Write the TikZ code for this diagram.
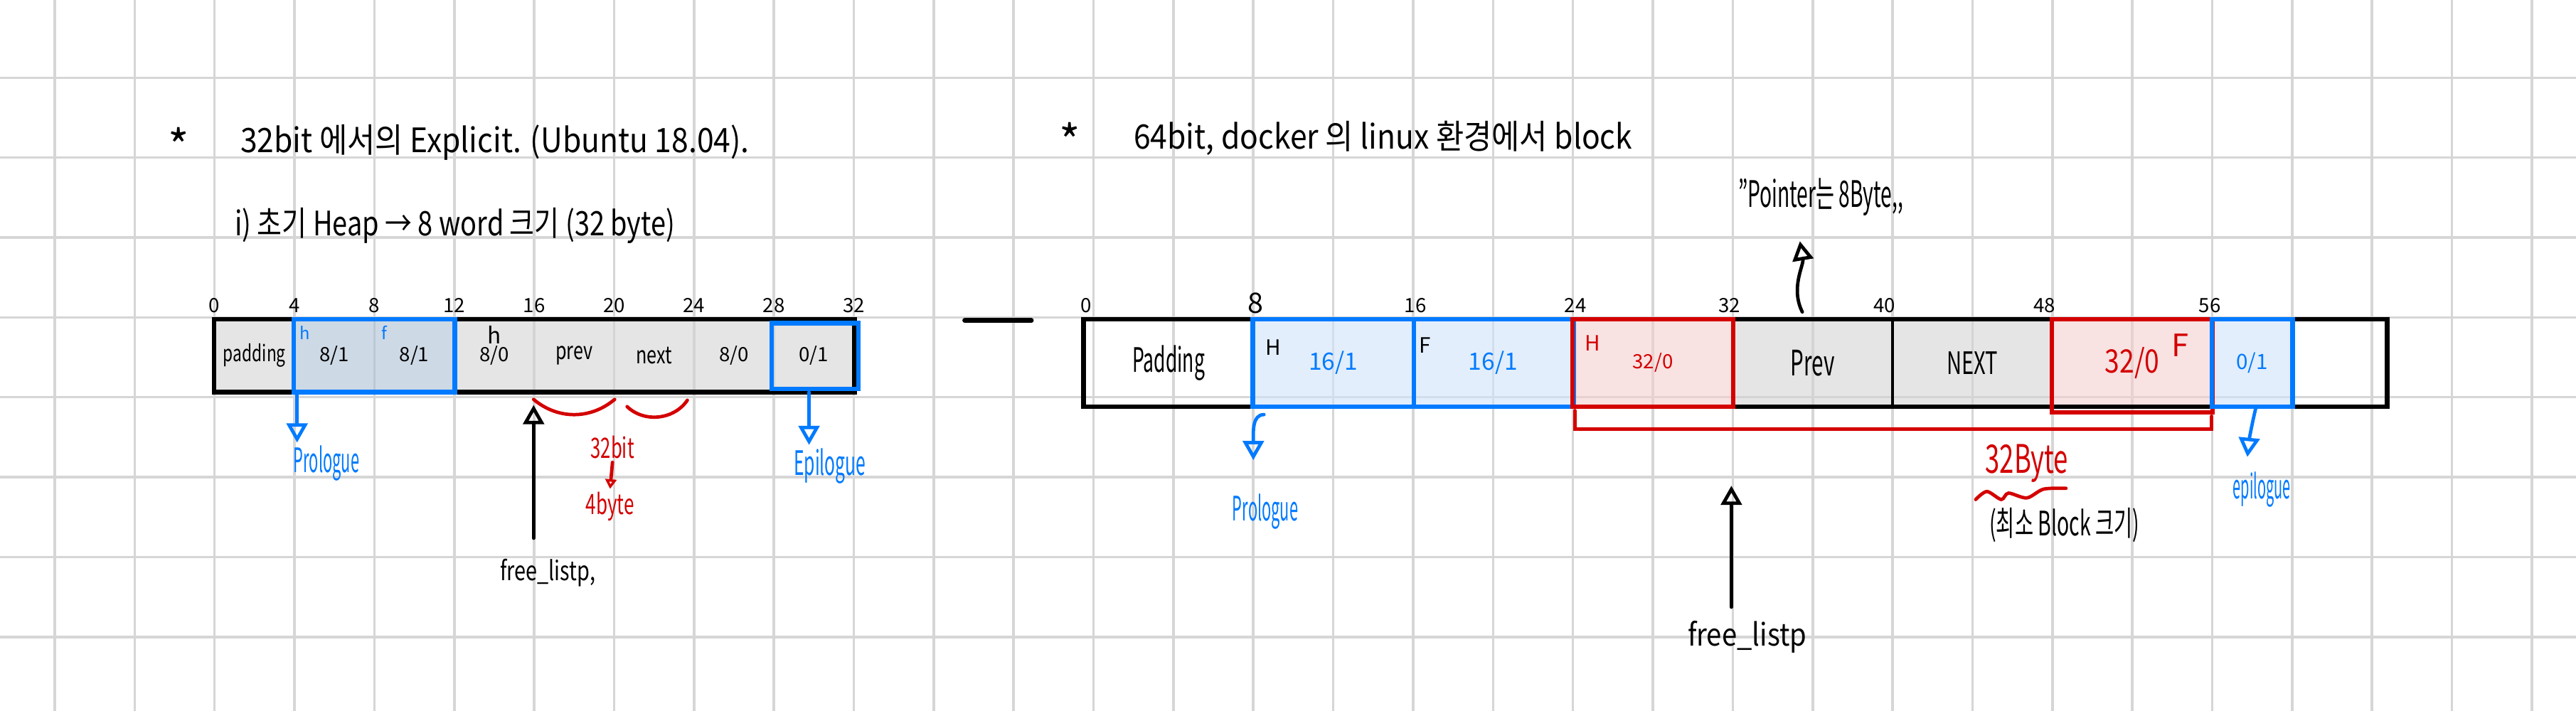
\documentclass[tikz,border=0pt]{standalone}
\usepackage{fontspec}
\setmainfont{Noto Sans CJK KR}
\usepackage{graphicx}
\usepackage{tikz}
\usetikzlibrary{positioning, arrows.meta, calc}

\definecolor{penblue}{RGB}{0,122,255}
\definecolor{penred}{RGB}{212,0,0}
\definecolor{gridgray}{RGB}{214,214,214}
\definecolor{cellgray}{RGB}{212,212,212}
\definecolor{cellsteel}{RGB}{172,192,213}
\definecolor{cellblue}{RGB}{208,228,250}
\definecolor{cellpink}{RGB}{245,207,207}

\newcommand{\squeeze}[2]{\scalebox{#1}[1]{#2}}

\begin{document}
\begin{tikzpicture}[
  >={Triangle[open, length=2.4mm, width=2.6mm]},
  gridline/.style={draw=gridgray, line width=0.9pt},
  sz/.style={font=\fontsize{#1}{#1}\selectfont},
  cell/.style={rectangle, inner sep=0pt, fill opacity=0.6, text opacity=1},
  lcell/.style={cell, minimum width=1cm, minimum height=0.9cm, sz=7},
  rcell/.style={cell, minimum width=2cm, minimum height=1.08cm, sz=8.5},
  frame/.style={draw=black, line width=1.7pt},
  blueframe/.style={draw=penblue, line width=1.6pt},
  redframe/.style={draw=penred, line width=1.6pt},
  pen/.style={line width=1.2pt, line cap=round},
  note/.style={inner sep=1pt}
]
% Paper
\fill[white] (-2.685,-4.927) rectangle (29.553,3.973);
\useasboundingbox (-2.685,-4.927) rectangle (29.553,3.973);
\draw[gridline] (-2.685,-4.927) grid (29.553,3.973);

% Titles
\node[sz=16] (star1) at (-0.45,2.15) {*};
\node[sz=12, anchor=west] (title1) at (0.2,2.19)
      {\squeeze{0.9}{32bit 에서의 Explicit. (Ubuntu 18.04).}};
\node[sz=12, anchor=west] (sub1) at (0.13,1.15)
      {\squeeze{0.8}{i) 초기 Heap → 8 word 크기 (32 byte)}};

\node[sz=16] (star2) at (10.7,2.22) {*};
\node[sz=12, anchor=west] (title2) at (11.38,2.24)
      {\squeeze{0.9}{64bit, docker 의 linux 환경에서 block}};

% 32bit heap
\node[lcell, fill=cellgray] (lpad) at (0.5,-0.48) {\squeeze{0.72}{\fontsize{8}{8}\selectfont padding}};
\node[lcell, fill=cellsteel] (lh1) at (1.5,-0.48) {8/1};
\node[lcell, fill=cellsteel] (lh2) at (2.5,-0.48) {8/1};
\node[lcell, fill=cellgray] (lhd) at (3.5,-0.48) {8/0};
\node[lcell, fill=cellgray] (lprev) at (4.5,-0.48) {\squeeze{0.75}{\fontsize{8.5}{8.5}\selectfont prev}};
\node[lcell, fill=cellgray] (lnext) at (5.5,-0.48) {\squeeze{0.75}{\fontsize{8.5}{8.5}\selectfont next}};
\node[lcell, fill=cellgray] (lft) at (6.5,-0.48) {8/0};
\node[lcell, fill=cellgray] (lep) at (7.5,-0.48) {0/1};

\draw[frame] (lpad.north west) rectangle (lep.south east);
\draw[blueframe] (lh1.north west) rectangle (lh2.south east);
\draw[blueframe] ([shift={(-0.02,-0.05)}]lep.north west) rectangle ([shift={(0.05,0.04)}]lep.south east);

\node[sz=6, text=penblue] (lhtag) at (1.13,-0.19) {h};
\node[sz=6, text=penblue] (lftag) at (2.12,-0.19) {f};
\node[sz=8] (lhdtag) at (3.5,-0.22) {h};

% 32bit offsets
\node[sz=7] (t0) at (0,0.15) {0};
\node[sz=7] (t4) at (1,0.15) {4};
\node[sz=7] (t8) at (2,0.15) {8};
\node[sz=7] (t12) at (3,0.15) {12};
\node[sz=7] (t16) at (4,0.15) {16};
\node[sz=7] (t20) at (5,0.15) {20};
\node[sz=7] (t24) at (6,0.15) {24};
\node[sz=7] (t28) at (7,0.15) {28};
\node[sz=7] (t32) at (8,0.15) {32};

% 32bit notes
\node[note, sz=12, text=penblue] (lpro) at (1.4,-1.83) {\squeeze{0.46}{Prologue}};
\node[note, sz=12, text=penblue] (lepi) at (7.7,-1.86) {\squeeze{0.52}{Epilogue}};
\node[note, sz=10, text=penred] (lbit) at (4.98,-1.63) {\squeeze{0.65}{32bit}};
\node[note, sz=10, text=penred] (lbyte) at (4.95,-2.37) {\squeeze{0.66}{4byte}};
\node[note, sz=9.5] (lfree) at (4.17,-3.2) {\squeeze{0.77}{free\_listp,}};

\draw[->, pen, penblue] ([xshift=0.4mm]lh1.south west) -- ([xshift=0.4mm]lh1.south west |- lpro.north);
\draw[->, pen, penblue] ([xshift=-0.6mm]lep.south) -- ([xshift=-0.6mm]lep.south |- lepi.north);
\draw[pen, penred] ([yshift=-0.9mm]lprev.south west) to[bend right=40] ([yshift=-0.9mm]lprev.south east);
\draw[pen, penred] ([shift={(0.17,-0.18)}]lnext.south west) to[bend right=50] ([shift={(-0.09,-0.1)}]lnext.south east);
\draw[->, pen, penred, >={Triangle[open, length=1.2mm, width=1.4mm]}] (lbit.south) -- (lbyte.north);
\draw[->, pen] ([yshift=2.2mm]lfree.north -| lprev.south west) -- ([yshift=-1.6mm]lprev.south west);

% Separator
\draw[line width=1.8pt, line cap=round] (9.39,-0.04) -- (10.22,-0.04);

% 64bit heap
\node[rcell, minimum width=2.12cm] (rpad) at (11.94,-0.57) {\squeeze{0.56}{\fontsize{12}{12}\selectfont Padding}};
\node[rcell, fill=cellblue, text=penblue] (rh) at (14,-0.57) {16/1};
\node[rcell, fill=cellblue, text=penblue] (rf) at (16,-0.57) {16/1};
\node[rcell, fill=cellpink, text=penred, sz=7] (rfh) at (18,-0.57) {32/0};
\node[rcell, fill=cellgray, draw=black, line width=1pt] (rprev) at (20,-0.57) {\squeeze{0.6}{\fontsize{12.5}{12.5}\selectfont Prev}};
\node[rcell, fill=cellgray, draw=black, line width=1pt] (rnext) at (22,-0.57) {\squeeze{0.67}{\fontsize{11}{11}\selectfont NEXT}};
\node[rcell, fill=cellpink, text=penred] (rff) at (24,-0.57) {\squeeze{0.82}{\fontsize{11.5}{11.5}\selectfont 32/0}};
\node[rcell, fill=cellblue, text=penblue, minimum width=1cm, sz=7.5] (rep) at (25.5,-0.57) {0/1};
\node[rcell, minimum width=1.18cm] (rend) at (26.59,-0.57) {};

\draw[frame] (rpad.north west) rectangle (rend.south east);
\draw[blueframe] (rh.north west) rectangle (rf.south east);
\draw[blueframe] (rh.north east) -- (rh.south east);
\draw[redframe] (rfh.north west) rectangle (rfh.south east);
\draw[redframe] (rff.north west) rectangle ([yshift=-0.07cm]rff.south east);
\draw[blueframe] (rep.north west) rectangle (rep.south east);

\node[sz=7.5] (rhtag) at (13.25,-0.38) {H};
\node[sz=7.5] (rftag) at (15.15,-0.35) {F};
\node[sz=7.5, text=penred] (rfhtag) at (17.25,-0.32) {H};
\node[sz=11, text=penred] (rfftag) at (24.6,-0.35) {F};

% 64bit offsets
\node[sz=7] (u0) at (10.91,0.15) {0};
\node[sz=10] (u8) at (13.03,0.18) {8};
\node[sz=7] (u16) at (15.03,0.15) {16};
\node[sz=7] (u24) at (17.03,0.15) {24};
\node[sz=7] (u32) at (18.96,0.15) {32};
\node[sz=7] (u40) at (20.9,0.15) {40};
\node[sz=7] (u48) at (22.9,0.15) {48};
\node[sz=7] (u56) at (24.97,0.15) {56};

% 64bit notes
\node[note, sz=13] (ptr) at (20.1,1.51) {\squeeze{0.55}{"Pointer는 8Byte,{},}};
\node[note, sz=12, text=penblue] (rpro) at (13.15,-2.43) {\squeeze{0.46}{Prologue}};
\node[note, sz=12, text=penblue] (repi) at (25.62,-2.16) {\squeeze{0.42}{epilogue}};
\node[note, sz=14, text=penred] (rsize) at (22.68,-1.83) {\squeeze{0.66}{32Byte}};
\node[note, sz=12] (rmin) at (23.15,-2.6) {\squeeze{0.6}{(최소 Block 크기)}};
\node[note, sz=11] (rfree) at (19.18,-4.0) {\squeeze{0.88}{free\_listp}};

\draw[->, pen] ([shift={(-0.13,0.08)}]rprev.north) .. controls +(-0.15,0.3) and +(0.05,-0.3) .. ([shift={(-0.26,-0.28)}]ptr.south);
\draw[->, pen, penblue] ([shift={(0.14,-0.1)}]rh.south west) .. controls +(-0.15,0) and +(0,0.35) .. ([shift={(-0.15,0.38)}]rpro.north);
\draw[->, pen, penblue] ([xshift=0.5mm]rep.south) .. controls +(-0.05,-0.2) and +(0.02,0.2) .. ([shift={(-0.18,0.15)}]repi.north);
\draw[pen, penred] ([shift={(0.03,-0.05)}]rfh.south west) -- ++(0,-0.23) -| ([yshift=-1.2mm]rep.south west);
\draw[pen, penred] plot[smooth] coordinates {(22.04,-2.28) (22.18,-2.18) (22.36,-2.28) (22.45,-2.2) (22.68,-2.26) (22.89,-2.15) (23.17,-2.14)};
\draw[->, pen] ([yshift=1.3mm]rfree.north -| rprev.south west) -- ([yshift=-9.8mm]rprev.south west);

\end{tikzpicture}
\end{document}
